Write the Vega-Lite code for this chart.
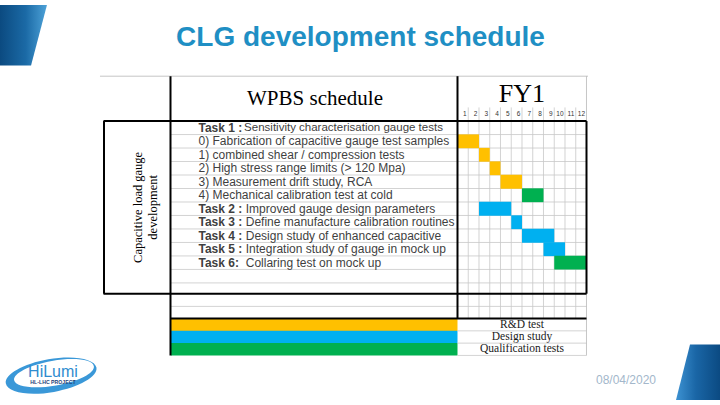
{
"$schema":"https://vega.github.io/schema/vega-lite/v6.json",
"width":720,"height":405,"padding":0,
"autosize":{"type":"fit","contains":"padding"},
"background":"#ffffff",
"config":{"view":{"stroke":null},"axis":{"disable":true}},
"datasets":{
"tasks":[
{"row":1,"prefix":"Task 1 :","label":"Sensitivity characterisation gauge tests","start":null,"end":null,"phase":null},
{"row":2,"prefix":"","label":"0) Fabrication of capacitive gauge test samples","start":0,"end":2,"phase":"R&D test"},
{"row":3,"prefix":"","label":"1) combined shear / compression tests","start":2,"end":3,"phase":"R&D test"},
{"row":4,"prefix":"","label":"2) High stress range limits (> 120 Mpa)","start":3,"end":4,"phase":"R&D test"},
{"row":5,"prefix":"","label":"3) Measurement drift study, RCA","start":4,"end":6,"phase":"R&D test"},
{"row":6,"prefix":"","label":"4) Mechanical calibration test at cold","start":6,"end":8,"phase":"Qualification tests"},
{"row":7,"prefix":"Task 2 :","label":"Improved gauge design parameters","start":2,"end":5,"phase":"Design study"},
{"row":8,"prefix":"Task 3 :","label":"Define manufacture calibration routines","start":5,"end":6,"phase":"Design study"},
{"row":9,"prefix":"Task 4 :","label":"Design study of enhanced capacitive","start":6,"end":9,"phase":"Design study"},
{"row":10,"prefix":"Task 5 :","label":"Integration study of gauge in mock up","start":8,"end":10,"phase":"Design study"},
{"row":11,"prefix":"Task 6:","label":"Collaring test on mock up","start":9,"end":12,"phase":"Qualification tests"}
],
"months":[{"month":1},{"month":2},{"month":3},{"month":4},{"month":5},{"month":6},{"month":7},{"month":8},{"month":9},{"month":10},{"month":11},{"month":12}],
"phases":[{"k":1,"phase":"R&D test"},{"k":2,"phase":"Design study"},{"k":3,"phase":"Qualification tests"}],
"rowLines":[{"y":1.5},{"y":2.5},{"y":3.5},{"y":4.5},{"y":5.5},{"y":6.5},{"y":7.5},{"y":8.5},{"y":9.5},{"y":10.5},{"y":11.5},{"y":12.5},{"y":14.24}],
"colLines":[{"x":1},{"x":2},{"x":3},{"x":4},{"x":5},{"x":6},{"x":7},{"x":8},{"x":9},{"x":10},{"x":11}],
"hThick":[{"y":0.5,"from":-32.93,"to":12},{"y":13.298,"from":-32.93,"to":12},{"y":15.142,"from":-26.698,"to":12}],
"vThick":[{"x":-26.698,"from":-2.826,"to":17.875},{"x":0,"from":-2.826,"to":15.142},{"x":-32.884,"from":0.5,"to":13.298},{"x":12,"from":0.5,"to":13.298}]
},
"resolve":{"scale":{"y":"independent"}},
"layer":[
{
"data":{"name":"phases"},
"layer":[
{"mark":{"type":"bar","orient":"horizontal","height":12.6},
"encoding":{
"x":{"datum":-26.65,"type":"quantitative","scale":{"domain":[-42.558,24.419],"nice":false,"zero":false},"axis":null},
"x2":{"datum":0},
"y":{"field":"k","type":"quantitative","scale":{"domain":[-25.016,7.127],"reverse":true,"nice":false,"zero":false},"axis":null},
"color":{"field":"phase","type":"nominal","scale":{"domain":["R&D test","Design study","Qualification tests"],"range":["#FFC000","#00B0F0","#00B050"]},"legend":null}}},
{"mark":{"type":"text","font":"Liberation Serif","fontSize":11.5,"color":"#1a1a1a","align":"center","baseline":"middle"},
"encoding":{
"x":{"datum":6,"type":"quantitative","scale":{"domain":[-42.558,24.419],"nice":false,"zero":false},"axis":null},
"y":{"field":"k","type":"quantitative","scale":{"domain":[-25.016,7.127],"reverse":true,"nice":false,"zero":false},"axis":null},
"text":{"field":"phase"}}},
{"data":{"values":[{"k":1.5},{"k":2.5},{"k":3.5}]},
"mark":{"type":"rule","color":"#c8c8c8","strokeWidth":0.8},
"encoding":{
"x":{"datum":0,"type":"quantitative","scale":{"domain":[-42.558,24.419],"nice":false,"zero":false},"axis":null},
"x2":{"datum":12},
"y":{"field":"k","type":"quantitative","scale":{"domain":[-25.016,7.127],"reverse":true,"nice":false,"zero":false},"axis":null}}}
]
},
{
"layer":[
{"data":{"values":[{"y":-8.1045,"xl":-42.558,"xr":-38.19},{"y":-3.62,"xl":-42.558,"xr":-39.67}]},
"mark":{"type":"area","orient":"horizontal","fill":{"gradient":"linear","x1":0,"y1":0,"x2":1,"y2":0,"stops":[{"offset":0,"color":"#0b4a80"},{"offset":0.55,"color":"#1b6aa6"},{"offset":1,"color":"#4da2d8"}]}},
"encoding":{
"y":{"field":"y","type":"quantitative","scale":{"domain":[-8.1045,21.18],"reverse":true,"nice":false,"zero":false},"axis":null},
"x":{"field":"xl","type":"quantitative","scale":{"domain":[-42.558,24.419],"nice":false,"zero":false},"axis":null},
"x2":{"field":"xr"}}},
{"data":{"values":[{"y":17.058,"xl":21.628,"xr":24.419},{"y":21.18,"xl":20.326,"xr":24.419}]},
"mark":{"type":"area","orient":"horizontal","fill":{"gradient":"linear","x1":0,"y1":0,"x2":1,"y2":0,"stops":[{"offset":0,"color":"#3d92d2"},{"offset":0.45,"color":"#1a66a6"},{"offset":1,"color":"#0b4a82"}]}},
"encoding":{
"y":{"field":"y","type":"quantitative","scale":{"domain":[-8.1045,21.18],"reverse":true,"nice":false,"zero":false},"axis":null},
"x":{"field":"xl","type":"quantitative","scale":{"domain":[-42.558,24.419],"nice":false,"zero":false},"axis":null},
"x2":{"field":"xr"}}},
{"data":{"values":[{"text":"CLG development schedule"}]},
"mark":{"type":"text","font":"Liberation Sans","fontWeight":"bold","fontSize":28,"color":"#1f8fc4","align":"center","baseline":"alphabetic"},
"encoding":{
"x":{"datum":-9.023,"type":"quantitative","scale":{"domain":[-42.558,24.419],"nice":false,"zero":false},"axis":null},
"y":{"datum":-5.068,"type":"quantitative","scale":{"domain":[-8.1045,21.18],"reverse":true,"nice":false,"zero":false},"axis":null},
"text":{"field":"text"}}},
{"data":{"name":"rowLines"},
"mark":{"type":"rule","color":"#c8c8c8","strokeWidth":0.8},
"encoding":{
"x":{"datum":-26.698,"type":"quantitative","scale":{"domain":[-42.558,24.419],"nice":false,"zero":false},"axis":null},
"x2":{"datum":12},
"y":{"field":"y","type":"quantitative","scale":{"domain":[-8.1045,21.18],"reverse":true,"nice":false,"zero":false},"axis":null}}},
{"data":{"name":"colLines"},
"mark":{"type":"rule","color":"#c8c8c8","strokeWidth":0.8},
"encoding":{
"x":{"field":"x","type":"quantitative","scale":{"domain":[-42.558,24.419],"nice":false,"zero":false},"axis":null},
"y":{"datum":-0.512,"type":"quantitative","scale":{"domain":[-8.1045,21.18],"reverse":true,"nice":false,"zero":false},"axis":null},
"y2":{"datum":15.142}}},
{"data":{"values":[{}]},
"mark":{"type":"rule","color":"#b8b8b8","strokeWidth":0.8},
"encoding":{
"x":{"datum":-33.256,"type":"quantitative","scale":{"domain":[-42.558,24.419],"nice":false,"zero":false},"axis":null},
"x2":{"datum":12.14},
"y":{"datum":-2.826,"type":"quantitative","scale":{"domain":[-8.1045,21.18],"reverse":true,"nice":false,"zero":false},"axis":null}}},
{"data":{"values":[{}]},
"mark":{"type":"rule","color":"#b8b8b8","strokeWidth":0.8},
"encoding":{
"x":{"datum":12,"type":"quantitative","scale":{"domain":[-42.558,24.419],"nice":false,"zero":false},"axis":null},
"y":{"datum":-2.826,"type":"quantitative","scale":{"domain":[-8.1045,21.18],"reverse":true,"nice":false,"zero":false},"axis":null},
"y2":{"datum":17.875}}},
{"data":{"name":"tasks"},
"transform":[{"filter":"datum.start != null"}],
"mark":{"type":"bar","orient":"horizontal","height":13.83},
"encoding":{
"x":{"field":"start","type":"quantitative","scale":{"domain":[-42.558,24.419],"nice":false,"zero":false},"axis":null},
"x2":{"field":"end"},
"y":{"field":"row","type":"quantitative","scale":{"domain":[-8.1045,21.18],"reverse":true,"nice":false,"zero":false},"axis":null},
"color":{"field":"phase","type":"nominal","scale":{"domain":["R&D test","Design study","Qualification tests"],"range":["#FFC000","#00B0F0","#00B050"]},"legend":null}}},
{"data":{"name":"hThick"},
"mark":{"type":"rule","color":"#000000","strokeWidth":2},
"encoding":{
"x":{"field":"from","type":"quantitative","scale":{"domain":[-42.558,24.419],"nice":false,"zero":false},"axis":null},
"x2":{"field":"to"},
"y":{"field":"y","type":"quantitative","scale":{"domain":[-8.1045,21.18],"reverse":true,"nice":false,"zero":false},"axis":null}}},
{"data":{"name":"vThick"},
"mark":{"type":"rule","color":"#000000","strokeWidth":2},
"encoding":{
"x":{"field":"x","type":"quantitative","scale":{"domain":[-42.558,24.419],"nice":false,"zero":false},"axis":null},
"y":{"field":"from","type":"quantitative","scale":{"domain":[-8.1045,21.18],"reverse":true,"nice":false,"zero":false},"axis":null},
"y2":{"field":"to"}}},
{"data":{"values":[{"text":"WPBS schedule"}]},
"mark":{"type":"text","font":"Liberation Serif","fontSize":21,"color":"#000000","align":"center","baseline":"alphabetic"},
"encoding":{
"x":{"datum":-13.256,"type":"quantitative","scale":{"domain":[-42.558,24.419],"nice":false,"zero":false},"axis":null},
"y":{"datum":-0.657,"type":"quantitative","scale":{"domain":[-8.1045,21.18],"reverse":true,"nice":false,"zero":false},"axis":null},
"text":{"field":"text"}}},
{"data":{"values":[{"text":"FY1"}]},
"mark":{"type":"text","font":"Liberation Serif","fontSize":26,"color":"#000000","align":"center","baseline":"alphabetic"},
"encoding":{
"x":{"datum":6,"type":"quantitative","scale":{"domain":[-42.558,24.419],"nice":false,"zero":false},"axis":null},
"y":{"datum":-0.91,"type":"quantitative","scale":{"domain":[-8.1045,21.18],"reverse":true,"nice":false,"zero":false},"axis":null},
"text":{"field":"text"}}},
{"data":{"name":"months"},
"mark":{"type":"text","font":"Liberation Sans","fontSize":6.5,"color":"#333333","align":"right","baseline":"middle","dx":-1.5},
"encoding":{
"x":{"field":"month","type":"quantitative","scale":{"domain":[-42.558,24.419],"nice":false,"zero":false},"axis":null},
"y":{"datum":0,"type":"quantitative","scale":{"domain":[-8.1045,21.18],"reverse":true,"nice":false,"zero":false},"axis":null},
"text":{"field":"month"}}},
{"data":{"values":[{"text":"Capacitive load gauge\ndevelopment"}]},
"mark":{"type":"text","font":"Liberation Serif","fontSize":12.5,"lineHeight":15,"lineBreak":"\n","angle":270,"color":"#000000","align":"center","baseline":"middle"},
"encoding":{
"x":{"datum":-29.767,"type":"quantitative","scale":{"domain":[-42.558,24.419],"nice":false,"zero":false},"axis":null},
"y":{"datum":6.899,"type":"quantitative","scale":{"domain":[-8.1045,21.18],"reverse":true,"nice":false,"zero":false},"axis":null},
"text":{"field":"text"}}},
{"data":{"name":"tasks"},
"transform":[{"filter":"datum.prefix == ''"}],
"mark":{"type":"text","font":"Liberation Sans","fontSize":12,"color":"#3f3f3f","align":"left","baseline":"middle"},
"encoding":{
"x":{"datum":-24.093,"type":"quantitative","scale":{"domain":[-42.558,24.419],"nice":false,"zero":false},"axis":null},
"y":{"field":"row","type":"quantitative","scale":{"domain":[-8.1045,21.18],"reverse":true,"nice":false,"zero":false},"axis":null},
"text":{"field":"label"}}},
{"data":{"name":"tasks"},
"transform":[{"filter":"datum.prefix != ''"}],
"mark":{"type":"text","font":"Liberation Sans","fontSize":12,"fontWeight":"bold","color":"#3f3f3f","align":"left","baseline":"middle"},
"encoding":{
"x":{"datum":-24.093,"type":"quantitative","scale":{"domain":[-42.558,24.419],"nice":false,"zero":false},"axis":null},
"y":{"field":"row","type":"quantitative","scale":{"domain":[-8.1045,21.18],"reverse":true,"nice":false,"zero":false},"axis":null},
"text":{"field":"prefix"}}},
{"data":{"name":"tasks"},
"transform":[{"filter":"datum.row == 1"}],
"mark":{"type":"text","font":"Liberation Sans","fontSize":11.5,"color":"#3f3f3f","align":"left","baseline":"middle"},
"encoding":{
"x":{"datum":-19.85,"type":"quantitative","scale":{"domain":[-42.558,24.419],"nice":false,"zero":false},"axis":null},
"y":{"field":"row","type":"quantitative","scale":{"domain":[-8.1045,21.18],"reverse":true,"nice":false,"zero":false},"axis":null},
"text":{"field":"label"}}},
{"data":{"name":"tasks"},
"transform":[{"filter":"datum.prefix != '' && datum.row != 1"}],
"mark":{"type":"text","font":"Liberation Sans","fontSize":12,"color":"#3f3f3f","align":"left","baseline":"middle"},
"encoding":{
"x":{"datum":-19.7,"type":"quantitative","scale":{"domain":[-42.558,24.419],"nice":false,"zero":false},"axis":null},
"y":{"field":"row","type":"quantitative","scale":{"domain":[-8.1045,21.18],"reverse":true,"nice":false,"zero":false},"axis":null},
"text":{"field":"label"}}},
{"data":{"values":[{}]},
"mark":{"type":"point","filled":true,"fill":"#3a98d8","stroke":null,"opacity":1,"size":8464,"angle":-10,"shape":"M-1,0A1,0.36,0,1,1,1,0A1,0.36,0,1,1,-1,0ZM0.95,-0.04A0.88,0.27,0,1,0,-0.81,-0.04A0.88,0.27,0,1,0,0.95,-0.04Z"},
"encoding":{
"x":{"datum":-37.8,"type":"quantitative","scale":{"domain":[-42.558,24.419],"nice":false,"zero":false},"axis":null},
"y":{"datum":19.37,"type":"quantitative","scale":{"domain":[-8.1045,21.18],"reverse":true,"nice":false,"zero":false},"axis":null}}},
{"data":{"values":[{"text":"HiLumi"}]},
"mark":{"type":"text","font":"Liberation Sans","fontSize":16,"color":"#2f8ccf","align":"center","baseline":"alphabetic"},
"encoding":{
"x":{"datum":-37.628,"type":"quantitative","scale":{"domain":[-42.558,24.419],"nice":false,"zero":false},"axis":null},
"y":{"datum":19.444,"type":"quantitative","scale":{"domain":[-8.1045,21.18],"reverse":true,"nice":false,"zero":false},"axis":null},
"text":{"field":"text"}}},
{"data":{"values":[{"text":"HL-LHC PROJECT"}]},
"mark":{"type":"text","font":"Liberation Sans","fontSize":5.2,"fontWeight":"bold","color":"#1d3f78","align":"center","baseline":"middle"},
"encoding":{
"x":{"datum":-37.628,"type":"quantitative","scale":{"domain":[-42.558,24.419],"nice":false,"zero":false},"axis":null},
"y":{"datum":19.878,"type":"quantitative","scale":{"domain":[-8.1045,21.18],"reverse":true,"nice":false,"zero":false},"axis":null},
"text":{"field":"text"}}},
{"data":{"values":[{"text":"08/04/2020"}]},
"mark":{"type":"text","font":"Liberation Sans","fontSize":12,"color":"#a3b7cb","align":"center","baseline":"middle"},
"encoding":{
"x":{"datum":15.674,"type":"quantitative","scale":{"domain":[-42.558,24.419],"nice":false,"zero":false},"axis":null},
"y":{"datum":19.73,"type":"quantitative","scale":{"domain":[-8.1045,21.18],"reverse":true,"nice":false,"zero":false},"axis":null},
"text":{"field":"text"}}}
]
}
]
}
